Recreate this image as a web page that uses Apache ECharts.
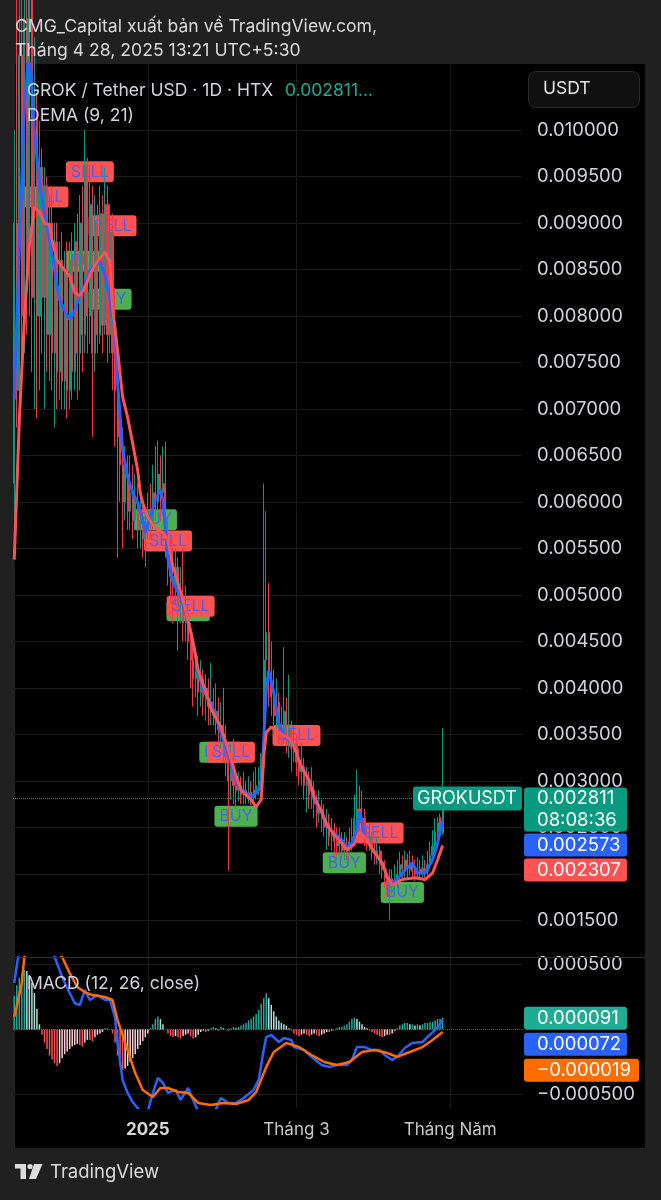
<!DOCTYPE html>
<html><head><meta charset="utf-8">
<script src="https://cdn.jsdelivr.net/npm/echarts@6/dist/echarts.min.js"></script>
<style>html,body{margin:0;padding:0;background:#202020;}#c{width:661px;height:1200px;}</style>
</head><body><div id="c"></div>
<script>
// ---------- DATA ----------
const startDate = '2024-11-09';
const categoryCount = 202;
// [open, close, low, high] daily GROK/USDT
const ohlc = [
[0.00620,0.00900,0.00560,0.01000],[0.00900,0.00720,0.00680,0.01150],[0.00720,0.01080,0.00700,0.01250],[0.01080,0.00800,0.00720,0.01200],
[0.00800,0.01120,0.00760,0.01300],[0.01120,0.00850,0.00780,0.01250],[0.00850,0.01150,0.00800,0.01350],[0.01150,0.00820,0.00740,0.01200],
[0.00820,0.01020,0.00700,0.01100],[0.01020,0.00800,0.00690,0.01040],[0.00800,0.00960,0.00720,0.01010],[0.00960,0.00820,0.00760,0.00980],
[0.00820,0.00940,0.00700,0.00960],[0.00940,0.00780,0.00740,0.00950],[0.00780,0.00900,0.00730,0.00930],[0.00900,0.00760,0.00720,0.00940],
[0.00760,0.00880,0.00680,0.00900],[0.00880,0.00740,0.00700,0.00900],[0.00740,0.00860,0.00710,0.00880],[0.00860,0.00730,0.00700,0.00890],
[0.00730,0.00850,0.00700,0.00870],[0.00850,0.00720,0.00690,0.00880],[0.00720,0.00860,0.00700,0.00880],[0.00860,0.00740,0.00710,0.00890],
[0.00740,0.00880,0.00720,0.00900],[0.00880,0.00760,0.00710,0.00910],[0.00760,0.00900,0.00720,0.00930],[0.00900,0.00780,0.00740,0.00940],
[0.00780,0.00960,0.00760,0.01000],[0.00960,0.00800,0.00760,0.00970],[0.00800,0.00920,0.00770,0.00960],[0.00920,0.00760,0.00670,0.00940],
[0.00760,0.00900,0.00740,0.00930],[0.00900,0.00780,0.00760,0.00920],[0.00780,0.00910,0.00770,0.00940],[0.00910,0.00790,0.00760,0.00930],
[0.00790,0.00920,0.00780,0.00960],[0.00920,0.00780,0.00750,0.00940],[0.00780,0.00890,0.00760,0.00920],[0.00890,0.00760,0.00720,0.00910],
[0.00760,0.00720,0.00660,0.00830],[0.00730,0.00670,0.00540,0.00760],[0.00670,0.00640,0.00600,0.00710],[0.00640,0.00600,0.00550,0.00680],
[0.00600,0.00630,0.00580,0.00660],[0.00630,0.00590,0.00570,0.00650],[0.00590,0.00610,0.00570,0.00650],[0.00610,0.00580,0.00560,0.00640],
[0.00580,0.00600,0.00570,0.00630],[0.00600,0.00570,0.00550,0.00620],[0.00570,0.00580,0.00550,0.00610],[0.00580,0.00560,0.00540,0.00600],
[0.00560,0.00570,0.00530,0.00590],[0.00570,0.00590,0.00560,0.00610],[0.00590,0.00580,0.00560,0.00620],[0.00580,0.00610,0.00570,0.00640],
[0.00610,0.00600,0.00580,0.00660],[0.00600,0.00630,0.00590,0.00666],[0.00630,0.00610,0.00580,0.00650],[0.00610,0.00620,0.00590,0.00660],
[0.00620,0.00560,0.00540,0.00665],[0.00560,0.00540,0.00510,0.00580],[0.00540,0.00520,0.00490,0.00560],[0.00520,0.00510,0.00470,0.00550],
[0.00510,0.00530,0.00490,0.00550],[0.00530,0.00490,0.00440,0.00540],[0.00490,0.00500,0.00470,0.00530],[0.00500,0.00470,0.00450,0.00550],
[0.00470,0.00480,0.00450,0.00510],[0.00480,0.00450,0.00430,0.00490],[0.00450,0.00430,0.00400,0.00470],[0.00430,0.00410,0.00380,0.00450],
[0.00410,0.00420,0.00390,0.00440],[0.00420,0.00395,0.00370,0.00435],[0.00395,0.00410,0.00380,0.00430],[0.00410,0.00390,0.00370,0.00420],
[0.00390,0.00400,0.00365,0.00415],[0.00400,0.00380,0.00360,0.00410],[0.00380,0.00385,0.00360,0.00427],[0.00385,0.00370,0.00360,0.00400],
[0.00370,0.00375,0.00350,0.00405],[0.00375,0.00355,0.00340,0.00390],[0.00355,0.00360,0.00335,0.00385],[0.00360,0.00340,0.00320,0.00400],
[0.00340,0.00325,0.00305,0.00360],[0.00325,0.00300,0.00204,0.00330],[0.00300,0.00315,0.00280,0.00340],[0.00315,0.00295,0.00275,0.00345],
[0.00295,0.00290,0.00270,0.00310],[0.00290,0.00295,0.00278,0.00310],[0.00295,0.00285,0.00275,0.00305],[0.00285,0.00290,0.00275,0.00310],
[0.00290,0.00283,0.00275,0.00300],[0.00283,0.00288,0.00276,0.00305],[0.00288,0.00282,0.00274,0.00300],[0.00282,0.00290,0.00276,0.00310],
[0.00290,0.00295,0.00280,0.00315],[0.00295,0.00300,0.00285,0.00315],[0.00300,0.00315,0.00290,0.00330],[0.00315,0.00430,0.00305,0.00620],
[0.00430,0.00460,0.00400,0.00590],[0.00460,0.00410,0.00380,0.00513],[0.00410,0.00390,0.00370,0.00450],[0.00390,0.00370,0.00350,0.00420],
[0.00370,0.00385,0.00355,0.00410],[0.00385,0.00355,0.00340,0.00395],[0.00355,0.00350,0.00338,0.00380],[0.00350,0.00375,0.00340,0.00444],
[0.00375,0.00345,0.00330,0.00390],[0.00345,0.00355,0.00325,0.00414],[0.00355,0.00335,0.00310,0.00365],[0.00335,0.00340,0.00320,0.00360],
[0.00340,0.00320,0.00305,0.00350],[0.00320,0.00310,0.00295,0.00335],[0.00310,0.00315,0.00295,0.00340],[0.00315,0.00295,0.00280,0.00325],
[0.00295,0.00300,0.00266,0.00315],[0.00300,0.00285,0.00270,0.00310],[0.00285,0.00290,0.00270,0.00315],[0.00290,0.00275,0.00260,0.00300],
[0.00275,0.00265,0.00250,0.00285],[0.00265,0.00270,0.00255,0.00290],[0.00270,0.00260,0.00245,0.00280],[0.00260,0.00250,0.00240,0.00275],
[0.00250,0.00255,0.00226,0.00270],[0.00255,0.00240,0.00230,0.00265],[0.00240,0.00245,0.00225,0.00260],[0.00245,0.00235,0.00218,0.00255],
[0.00235,0.00230,0.00220,0.00250],[0.00230,0.00235,0.00220,0.00250],[0.00235,0.00225,0.00215,0.00245],[0.00225,0.00230,0.00215,0.00245],
[0.00230,0.00225,0.00215,0.00240],[0.00225,0.00235,0.00220,0.00250],[0.00235,0.00240,0.00225,0.00260],[0.00240,0.00260,0.00235,0.00285],
[0.00260,0.00270,0.00245,0.00312],[0.00270,0.00255,0.00240,0.00295],[0.00255,0.00260,0.00240,0.00290],[0.00260,0.00240,0.00230,0.00270],
[0.00240,0.00235,0.00225,0.00250],[0.00235,0.00240,0.00225,0.00255],[0.00240,0.00225,0.00215,0.00245],[0.00225,0.00220,0.00210,0.00235],
[0.00220,0.00225,0.00210,0.00240],[0.00225,0.00210,0.00200,0.00230],[0.00210,0.00205,0.00195,0.00225],[0.00205,0.00195,0.00185,0.00215],
[0.00195,0.00185,0.00175,0.00205],[0.00185,0.00195,0.00150,0.00205],[0.00195,0.00188,0.00178,0.00205],[0.00188,0.00195,0.00180,0.00210],
[0.00195,0.00200,0.00185,0.00215],[0.00200,0.00210,0.00190,0.00224],[0.00210,0.00205,0.00195,0.00220],[0.00205,0.00215,0.00195,0.00225],
[0.00215,0.00205,0.00195,0.00222],[0.00205,0.00212,0.00198,0.00225],[0.00212,0.00203,0.00195,0.00220],[0.00203,0.00200,0.00192,0.00215],
[0.00200,0.00205,0.00195,0.00218],[0.00205,0.00200,0.00193,0.00215],[0.00200,0.00206,0.00195,0.00220],[0.00206,0.00203,0.00196,0.00215],
[0.00203,0.00210,0.00198,0.00225],[0.00210,0.00220,0.00205,0.00235],[0.00220,0.00230,0.00215,0.00247],[0.00230,0.00245,0.00225,0.00260],
[0.00245,0.00255,0.00238,0.00261],[0.00261,0.00244,0.00240,0.00265],[0.00244,0.002811,0.00242,0.00357]
];
// DEMA lines: [dayIndex, value]
const dema9Pts = [[0,0.00710],[2,0.00871],[4,0.01022],[6,0.01090],[8,0.01000],[10,0.00943],[12,0.00911],[14,0.00882],[16,0.00849],[18,0.00817],[20,0.00806],[22,0.00796],[24,0.00806],[26,0.00823],[28,0.00833],[30,0.00849],[32,0.00855],[34,0.00858],[36,0.00844],[38,0.00817],[40,0.00785],[41,0.00728],[43,0.00656],[45,0.00627],[47,0.00610],[49,0.00599],[51,0.00581],[52,0.00567],[54,0.00584],[56,0.00602],[58,0.00613],[59,0.00602],[61,0.00538],[63,0.00513],[66,0.00498],[70,0.00462],[72,0.00435],[73,0.00416],[75,0.00398],[78,0.00384],[80,0.00369],[82,0.00352],[85,0.00330],[87,0.00309],[89,0.00294],[92,0.00287],[94,0.00283],[96,0.00287],[98,0.00294],[99,0.00344],[100,0.00398],[101,0.00419],[103,0.00395],[105,0.00362],[107,0.00349],[109,0.00344],[111,0.00337],[114,0.00315],[117,0.00301],[119,0.00280],[122,0.00266],[124,0.00251],[127,0.00244],[130,0.00237],[132,0.00229],[134,0.00233],[136,0.00247],[137,0.00266],[138,0.00258],[139,0.00240],[143,0.00223],[146,0.00212],[148,0.00197],[149,0.00190],[152,0.00194],[155,0.00204],[158,0.00212],[160,0.00201],[163,0.00201],[166,0.00215],[168,0.00233],[170,0.002573]];
const dema21Pts = [[0,0.00538],[2,0.00688],[4,0.00796],[6,0.00876],[8,0.00917],[10,0.00912],[12,0.00900],[14,0.00898],[15,0.00882],[17,0.00860],[20,0.00849],[22,0.00843],[24,0.00825],[26,0.00822],[28,0.00830],[30,0.00844],[32,0.00855],[34,0.00862],[36,0.00869],[38,0.00858],[39,0.00810],[41,0.00763],[43,0.00713],[45,0.00691],[47,0.00663],[49,0.00634],[50,0.00610],[51,0.00599],[53,0.00584],[55,0.00575],[57,0.00570],[59,0.00567],[61,0.00559],[63,0.00530],[65,0.00513],[68,0.00484],[71,0.00448],[73,0.00419],[76,0.00396],[78,0.00378],[82,0.00358],[85,0.00333],[88,0.00306],[90,0.00290],[94,0.00280],[96,0.00272],[98,0.00280],[99,0.00326],[100,0.00352],[102,0.00358],[105,0.00352],[109,0.00346],[111,0.00337],[114,0.00315],[117,0.00301],[119,0.00283],[122,0.00267],[124,0.00253],[127,0.00242],[130,0.00233],[132,0.00226],[135,0.00232],[137,0.00245],[139,0.00240],[143,0.00223],[146,0.00212],[148,0.00197],[150,0.00188],[154,0.00194],[159,0.00196],[163,0.00194],[166,0.00201],[168,0.00215],[170,0.002307]];
// MACD (12, 26, close)
const macdPts = [[0,0.000358],[2,0.00062],[4,0.00078],[7,0.00082],[10,0.00078],[13,0.00068],[16,0.00056],[19,0.000404],[22,0.000281],[24,0.000204],[26,0.000188],[28,0.000304],[30,0.000227],[33,0.000265],[36,0.000227],[38,0.000227],[40,0.000096],[41,-0.000104],[43,-0.000388],[45,-0.000488],[47,-0.000558],[50,-0.00063],[53,-0.00063],[55,-0.000488],[57,-0.000373],[59,-0.000411],[61,-0.000488],[64,-0.000465],[66,-0.000542],[69,-0.00045],[71,-0.000542],[73,-0.00063],[76,-0.00068],[79,-0.00066],[82,-0.000527],[85,-0.000565],[88,-0.000565],[91,-0.000527],[95,-0.000465],[97,-0.000388],[99,-0.000158],[100,-0.000058],[102,-0.000042],[105,-0.000096],[107,-0.000065],[110,-0.000081],[111,-0.000135],[115,-0.000158],[118,-0.000211],[122,-0.000273],[125,-0.000288],[128,-0.000273],[132,-0.000273],[134,-0.000235],[136,-0.000135],[139,-0.000135],[142,-0.000158],[145,-0.000158],[147,-0.000196],[150,-0.000235],[152,-0.000211],[155,-0.000142],[158,-0.000104],[162,-0.000096],[164,-0.000058],[167,-0.000004],[169,0.00004],[170,0.000072]];
const signalPts = [[0,0.000096],[3,0.000358],[4,0.000558],[8,0.00070],[12,0.00071],[16,0.00064],[19,0.000558],[22,0.000435],[25,0.000327],[28,0.000288],[31,0.000265],[36,0.00025],[39,0.000227],[41,0.000073],[45,-0.000158],[48,-0.000335],[51,-0.000465],[55,-0.000519],[58,-0.00045],[61,-0.00045],[65,-0.000481],[69,-0.000488],[73,-0.000565],[78,-0.000581],[83,-0.000565],[88,-0.000573],[93,-0.000542],[96,-0.000481],[100,-0.000288],[103,-0.000173],[108,-0.000104],[113,-0.000135],[118,-0.000196],[123,-0.00025],[128,-0.000273],[133,-0.00025],[138,-0.000173],[143,-0.000158],[148,-0.000181],[152,-0.000211],[157,-0.000173],[162,-0.000135],[166,-0.000081],[170,-0.000019]];
const macdHist = [
0.00026,0.00034,0.00040,0.00043,0.00046,0.00045,0.00042,0.00036,0.00028,0.00016,
0.00004,-0.00004,-0.00010,-0.00015,-0.00020,-0.00023,-0.00026,-0.00028,-0.00026,-0.00022,
-0.00019,-0.00017,-0.00015,-0.00013,-0.00012,-0.00011,-0.00012,-0.00013,-0.00010,-0.00008,
-0.00008,-0.00009,-0.00006,-0.00004,-0.00003,-0.00002,0.00001,0.00001,0.00000,-0.00003,
-0.00010,-0.00020,-0.00028,-0.00031,-0.00030,-0.00028,-0.00025,-0.00022,-0.00019,-0.00015,
-0.00012,-0.00009,-0.00006,-0.00003,0.00001,0.00004,0.00008,0.00010,0.00008,0.00004,
0.00000,-0.00003,-0.00005,-0.00006,-0.00005,-0.00006,-0.00007,-0.00005,-0.00004,-0.00003,
-0.00005,-0.00007,-0.00006,-0.00004,-0.00002,-0.00001,-0.00002,-0.00001,0.00001,0.00002,
0.00001,-0.00001,0.00002,0.00001,0.00000,-0.00001,0.00001,0.00002,0.00001,0.00002,
0.00003,0.00004,0.00005,0.00007,0.00008,0.00010,0.00012,0.00015,0.00020,0.00024,
0.00028,0.00024,0.00019,0.00014,0.00010,0.00007,0.00005,0.00004,0.00003,0.00001,
-0.00001,-0.00003,-0.00004,-0.00005,-0.00004,-0.00003,-0.00004,-0.00005,-0.00004,-0.00003,
-0.00004,-0.00005,-0.00004,-0.00003,-0.00002,-0.00002,-0.00001,0.00000,0.00001,0.00002,
0.00002,0.00003,0.00004,0.00006,0.00008,0.00009,0.00008,0.00006,0.00004,0.00002,
0.00001,-0.00001,-0.00002,-0.00003,-0.00004,-0.00005,-0.00006,-0.00005,-0.00004,-0.00004,
-0.00003,-0.00001,0.00001,0.00003,0.00004,0.00005,0.00005,0.00004,0.00004,0.00003,
0.00004,0.00003,0.00004,0.00005,0.00005,0.00006,0.00006,0.00007,0.00008,0.00008,
0.000091
];
const sellSignals = [[12,0.00928],[30,0.00955],[39,0.00897],[61,0.00558],[70,0.00488],[86,0.00331],[112,0.00349],[145,0.00244]];
const buySignals = [[29,0.00859],[38,0.00818],[56,0.00581],[69,0.00483],[82,0.00331],[88,0.00262],[131,0.00212],[154,0.00180]];
const priceTicks = [0.0015,0.0020,0.0025,0.0030,0.0035,0.0040,0.0045,0.0050,0.0055,0.0060,0.0065,0.0070,0.0075,0.0080,0.0085,0.0090,0.0095,0.0100];
const macdTicks = [0.0005,-0.0005];
const xTickLabels = {'2025-01-01':'2025','2025-03-01':'Tháng 3','2025-05-01':'Tháng Năm'};
const countdown = '08:08:36';

// ---------- BUILD ----------
const dates = [];
(function(){const p=startDate.split('-').map(Number);const t0=Date.UTC(p[0],p[1]-1,p[2]);
for(let i=0;i<categoryCount;i++){dates.push(new Date(t0+i*86400000).toISOString().slice(0,10));}})();

const FONT = 'Inter, Roboto, sans-serif';
const NUM = 18.5;
const UP='#089981', DOWN='#f23645', BLUE='#2962ff', RED='#ff5252', ORANGE='#ff6d00';
const fmt = v => (v<0?'\u2212':'') + Math.abs(v).toFixed(6);
const isTick = (i, v) => Object.prototype.hasOwnProperty.call(xTickLabels, v);

const lastClose = ohlc[ohlc.length-1][1];
const histData = macdHist.map((v,i)=>{const p=i>0?macdHist[i-1]:v;let c;
  if(v>=0) c = v>=p ? '#26a69a' : '#b2dfdb'; else c = v<=p ? '#ff5252' : '#ffcdd2';
  return {value:v, itemStyle:{color:c}};});

const gridLineStyle = {color:'#1b1b1b', width:1, type:'solid'};
const tickLabel = v => ({show:true, position:'end', distance:15, formatter:()=>fmt(v), color:'#d1d4dc', fontSize:NUM, fontFamily:FONT});
const vLines = Object.keys(xTickLabels).map(d=>({xAxis:d, lineStyle:gridLineStyle, label:{show:false}}));

const signalLabel = (bg) => ({show:true, position:'inside', formatter:p=>p.seriesName, color:'#4f5ff0', opacity:1,
  fontSize:16, fontFamily:FONT, backgroundColor:bg, padding:[3,5,2,5], borderRadius:3});

const axisCommon = {axisLine:{show:false}, axisTick:{show:false}, splitLine:{show:false}};
const option = {
  backgroundColor:'#202020', animation:false,
  textStyle:{fontFamily:FONT},
  graphic:[
    {type:'rect', z:-10, silent:true, shape:{x:15,y:64,width:630,height:1084}, style:{fill:'#000'}},
    {type:'line', z:5, silent:true, shape:{x1:15,y1:957.5,x2:645,y2:957.5}, style:{stroke:'#2e2e2e', lineWidth:1}}
  ],
  grid:[{left:13, width:509, top:64, height:893},{left:13, width:509, top:957, height:151}],
  xAxis:[
    Object.assign({type:'category', gridIndex:0, data:dates, boundaryGap:true, axisLabel:{show:false}}, axisCommon),
    Object.assign({type:'category', gridIndex:1, data:dates, boundaryGap:true,
      axisLabel:{show:true, interval:isTick, margin:13, color:'#c8c8c8', fontSize:17, fontFamily:FONT,
        formatter:v=> v==='2025-01-01' ? '{b|'+xTickLabels[v]+'}' : (xTickLabels[v]||''),
        rich:{b:{fontWeight:'bold', color:'#d8d8d8', fontSize:17, fontFamily:FONT}}}}, axisCommon)
  ],
  yAxis:[
    Object.assign({type:'value', gridIndex:0, position:'right', min:0.001107, max:0.010710, axisLabel:{show:false}}, axisCommon),
    Object.assign({type:'value', gridIndex:1, position:'right', min:-0.000604, max:0.000558, axisLabel:{show:false}}, axisCommon)
  ],
  series:[
    {name:'BUY', type:'scatter', xAxisIndex:0, yAxisIndex:0, z:2, symbolSize:1, itemStyle:{color:'rgba(0,0,0,0)', opacity:1},
      data:buySignals, label:signalLabel('#4caf50'), silent:true},
    {name:'SELL', type:'scatter', xAxisIndex:0, yAxisIndex:0, z:2, symbolSize:1, itemStyle:{color:'rgba(0,0,0,0)', opacity:1},
      data:sellSignals, label:signalLabel('#ff5252'), silent:true},
    {name:'GROKUSDT', type:'candlestick', xAxisIndex:0, yAxisIndex:0, z:3, barWidth:1.6, data:ohlc,
      itemStyle:{color:UP, color0:DOWN, borderColor:UP, borderColor0:DOWN, borderWidth:1},
      markLine:{silent:true, symbol:['none','none'], z:1, precision:8, animation:false,
        data: priceTicks.map(v=>({yAxis:v, lineStyle:gridLineStyle, label:tickLabel(v)}))
          .concat(vLines)
          .concat([{yAxis:lastClose, lineStyle:{color:UP, type:'dotted', width:1}, label:{show:false}}])}},
    {name:'DEMA9', type:'line', xAxisIndex:0, yAxisIndex:0, z:4, data:dema9Pts, showSymbol:false, symbol:'none',
      lineStyle:{color:BLUE, width:3}},
    {name:'DEMA21', type:'line', xAxisIndex:0, yAxisIndex:0, z:4, data:dema21Pts, showSymbol:false, symbol:'none',
      lineStyle:{color:RED, width:3}},
    {name:'Histogram', type:'bar', xAxisIndex:1, yAxisIndex:1, z:3, barWidth:1.5, data:histData,
      markLine:{silent:true, symbol:['none','none'], z:1, precision:8, animation:false,
        data: macdTicks.map(v=>({yAxis:v, lineStyle:gridLineStyle, label:tickLabel(v)}))
          .concat(vLines)
          .concat([{yAxis:0, lineStyle:{color:'#5a5a5a', type:'dotted', width:1}, label:{show:false}}])}},
    {name:'MACD', type:'line', xAxisIndex:1, yAxisIndex:1, z:4, data:macdPts, showSymbol:false, symbol:'none',
      lineStyle:{color:BLUE, width:2.5}},
    {name:'Signal', type:'line', xAxisIndex:1, yAxisIndex:1, z:4, data:signalPts, showSymbol:false, symbol:'none',
      lineStyle:{color:ORANGE, width:2.5}}
  ]
};

const chart = echarts.init(document.getElementById('c'));
chart.setOption(option);

// ---------- OVERLAY TEXT / VALUE TAGS ----------
const yP = v => chart.convertToPixel({yAxisIndex:0}, v);
const yM = v => chart.convertToPixel({yAxisIndex:1}, v);
const g = [];
const txt = (x,y,s,fill,size,weight,align) => ({type:'text', z:20, silent:true,
  style:{x:x, y:y, text:s, fill:fill, font:(weight||'normal')+' '+size+'px '+FONT, textAlign:align||'left', verticalAlign:'middle'}});
const box = (x,y,w,h,fill,r) => ({type:'rect', z:19, silent:true, shape:{x:x,y:y,width:w,height:h,r:r||3}, style:{fill:fill}});

g.push(txt(15,27,'CMG_Capital xuất bản về TradingView.com,','#d9d9d9',17.6));
g.push(txt(15,51,'Tháng 4 28, 2025 13:21 UTC+5:30','#d9d9d9',17.6));
g.push(txt(27,91,'GROK / Tether USD · 1D · HTX','#d1d4dc',17.5));
g.push(txt(285,91,fmt(lastClose)+'...','#22ab94',17.5));
g.push(txt(27,116,'DEMA (9, 21)','#d1d4dc',17.5));
g.push(txt(27,984,'MACD (12, 26, close)','#d1d4dc',17.5));
g.push({type:'rect', z:19, silent:true, shape:{x:528.5,y:71.5,width:111,height:36,r:7}, style:{fill:'#111', stroke:'#2c2c2c', lineWidth:1}});
g.push(txt(543,89,'USDT','#e6e6e6',17.5));

// price tags (stacked like the price scale does)
const pc = yP(lastClose);
g.push(box(413, pc-12, 109, 24, UP));
g.push(txt(467, pc, 'GROKUSDT', '#ffffff', 18, 'normal', 'center'));
const tagTop = pc-11;
g.push(box(524, tagTop, 103, 44, UP)); g.push(txt(537, pc, fmt(lastClose), '#fff', NUM)); g.push(txt(537, pc+22, countdown, '#fff', NUM));
let tagBottom = tagTop+44;
[[dema9Pts[dema9Pts.length-1][1], BLUE],[dema21Pts[dema21Pts.length-1][1], RED]].forEach(([v,c])=>{
  const y = yP(v); const t = Math.max(y-11, tagBottom+2);
  g.push(box(524, t, 103, 23, c)); g.push(txt(537, t+11.5, fmt(v), '#fff', NUM)); tagBottom = t+23;
});
tagBottom = -1e9;
[[macdHist[macdHist.length-1], '#22ab94'],[macdPts[macdPts.length-1][1], BLUE],[signalPts[signalPts.length-1][1], ORANGE]].forEach(([v,c])=>{
  const y = yM(v); const t = Math.max(y-11, tagBottom+3);
  g.push(box(524, t, v<0?115:103, 23, c)); g.push(txt(537, t+11.5, fmt(v), '#fff', NUM)); tagBottom = t+23;
});
// TradingView logo
g.push({type:'rect', z:20, silent:true, shape:{x:15,y:1164,width:11,height:4.5}, style:{fill:'#dcdcdc'}});
g.push({type:'rect', z:20, silent:true, shape:{x:20.5,y:1164,width:5.5,height:15}, style:{fill:'#dcdcdc'}});
g.push({type:'circle', z:20, silent:true, shape:{cx:30,cy:1166.5,r:2.6}, style:{fill:'#dcdcdc'}});
g.push({type:'polygon', z:20, silent:true, shape:{points:[[34,1164],[42.5,1164],[36,1179],[29,1179]]}, style:{fill:'#dcdcdc'}});
g.push(txt(50,1172,'TradingView','#dcdcdc',18.5));

chart.setOption({graphic: option.graphic.concat(g)});
</script></body></html>
